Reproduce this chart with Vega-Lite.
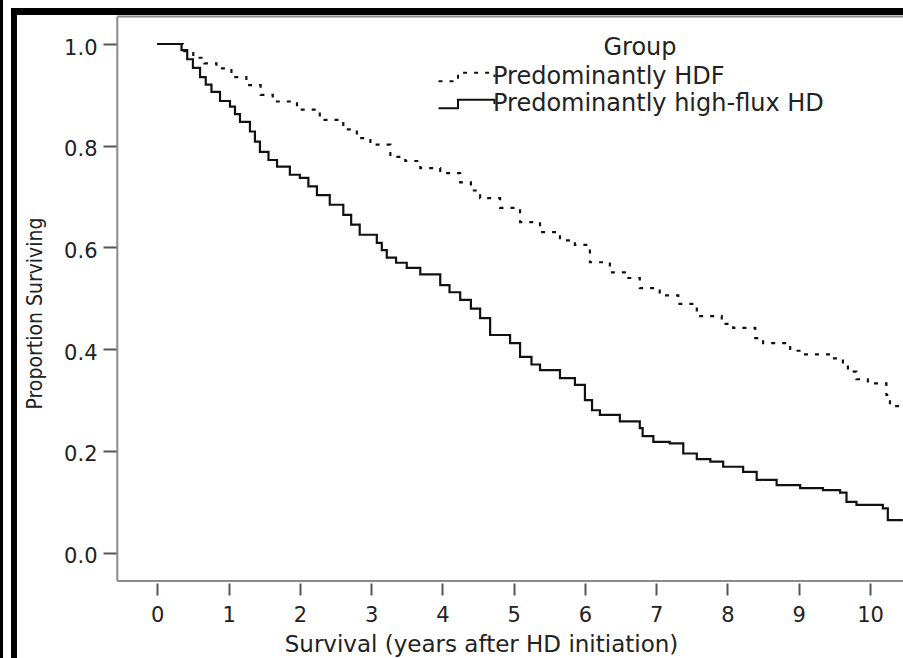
{
  "$schema": "https://vega.github.io/schema/vega-lite/v6.json",
  "width": 903,
  "height": 658,
  "padding": 0,
  "autosize": "none",
  "background": "white",
  "config": {"view": {"stroke": null}},
  "datasets": {
    "km": [
      {"group": "Predominantly high-flux HD", "t": 0, "s": 1.0},
      {"group": "Predominantly high-flux HD", "t": 0.27, "s": 1.0},
      {"group": "Predominantly high-flux HD", "t": 0.34, "s": 0.988},
      {"group": "Predominantly high-flux HD", "t": 0.42, "s": 0.97},
      {"group": "Predominantly high-flux HD", "t": 0.5, "s": 0.953},
      {"group": "Predominantly high-flux HD", "t": 0.6, "s": 0.935},
      {"group": "Predominantly high-flux HD", "t": 0.68, "s": 0.92},
      {"group": "Predominantly high-flux HD", "t": 0.76, "s": 0.906},
      {"group": "Predominantly high-flux HD", "t": 0.88, "s": 0.888},
      {"group": "Predominantly high-flux HD", "t": 1.02, "s": 0.877},
      {"group": "Predominantly high-flux HD", "t": 1.09, "s": 0.862},
      {"group": "Predominantly high-flux HD", "t": 1.16, "s": 0.847},
      {"group": "Predominantly high-flux HD", "t": 1.3, "s": 0.828},
      {"group": "Predominantly high-flux HD", "t": 1.37, "s": 0.808},
      {"group": "Predominantly high-flux HD", "t": 1.44, "s": 0.788},
      {"group": "Predominantly high-flux HD", "t": 1.56, "s": 0.772},
      {"group": "Predominantly high-flux HD", "t": 1.68, "s": 0.759},
      {"group": "Predominantly high-flux HD", "t": 1.86, "s": 0.743},
      {"group": "Predominantly high-flux HD", "t": 2.0, "s": 0.737},
      {"group": "Predominantly high-flux HD", "t": 2.12, "s": 0.72},
      {"group": "Predominantly high-flux HD", "t": 2.24, "s": 0.703},
      {"group": "Predominantly high-flux HD", "t": 2.42, "s": 0.684},
      {"group": "Predominantly high-flux HD", "t": 2.61, "s": 0.664},
      {"group": "Predominantly high-flux HD", "t": 2.72, "s": 0.645},
      {"group": "Predominantly high-flux HD", "t": 2.84, "s": 0.625},
      {"group": "Predominantly high-flux HD", "t": 3.08, "s": 0.609},
      {"group": "Predominantly high-flux HD", "t": 3.15, "s": 0.595},
      {"group": "Predominantly high-flux HD", "t": 3.22, "s": 0.58},
      {"group": "Predominantly high-flux HD", "t": 3.35, "s": 0.57},
      {"group": "Predominantly high-flux HD", "t": 3.5, "s": 0.56},
      {"group": "Predominantly high-flux HD", "t": 3.69, "s": 0.547},
      {"group": "Predominantly high-flux HD", "t": 3.97, "s": 0.526},
      {"group": "Predominantly high-flux HD", "t": 4.1, "s": 0.512},
      {"group": "Predominantly high-flux HD", "t": 4.25, "s": 0.497},
      {"group": "Predominantly high-flux HD", "t": 4.4, "s": 0.48},
      {"group": "Predominantly high-flux HD", "t": 4.53, "s": 0.461},
      {"group": "Predominantly high-flux HD", "t": 4.67, "s": 0.428},
      {"group": "Predominantly high-flux HD", "t": 4.95, "s": 0.412},
      {"group": "Predominantly high-flux HD", "t": 5.09, "s": 0.385},
      {"group": "Predominantly high-flux HD", "t": 5.25, "s": 0.37},
      {"group": "Predominantly high-flux HD", "t": 5.37, "s": 0.359},
      {"group": "Predominantly high-flux HD", "t": 5.65, "s": 0.343},
      {"group": "Predominantly high-flux HD", "t": 5.86, "s": 0.33},
      {"group": "Predominantly high-flux HD", "t": 6.0, "s": 0.3},
      {"group": "Predominantly high-flux HD", "t": 6.1, "s": 0.28},
      {"group": "Predominantly high-flux HD", "t": 6.21, "s": 0.271},
      {"group": "Predominantly high-flux HD", "t": 6.49, "s": 0.258},
      {"group": "Predominantly high-flux HD", "t": 6.77, "s": 0.245},
      {"group": "Predominantly high-flux HD", "t": 6.81, "s": 0.229},
      {"group": "Predominantly high-flux HD", "t": 6.96, "s": 0.218},
      {"group": "Predominantly high-flux HD", "t": 7.19, "s": 0.215},
      {"group": "Predominantly high-flux HD", "t": 7.38, "s": 0.195},
      {"group": "Predominantly high-flux HD", "t": 7.57, "s": 0.184},
      {"group": "Predominantly high-flux HD", "t": 7.76, "s": 0.179},
      {"group": "Predominantly high-flux HD", "t": 7.94, "s": 0.169},
      {"group": "Predominantly high-flux HD", "t": 8.22, "s": 0.159},
      {"group": "Predominantly high-flux HD", "t": 8.41, "s": 0.143},
      {"group": "Predominantly high-flux HD", "t": 8.69, "s": 0.133},
      {"group": "Predominantly high-flux HD", "t": 9.02, "s": 0.127},
      {"group": "Predominantly high-flux HD", "t": 9.34, "s": 0.123},
      {"group": "Predominantly high-flux HD", "t": 9.58, "s": 0.118},
      {"group": "Predominantly high-flux HD", "t": 9.67, "s": 0.1},
      {"group": "Predominantly high-flux HD", "t": 9.81, "s": 0.094},
      {"group": "Predominantly high-flux HD", "t": 10.18, "s": 0.087},
      {"group": "Predominantly high-flux HD", "t": 10.25, "s": 0.064},
      {"group": "Predominantly high-flux HD", "t": 10.46, "s": 0.064},
      {"group": "Predominantly HDF", "t": 0, "s": 1.0},
      {"group": "Predominantly HDF", "t": 0.3, "s": 1.0},
      {"group": "Predominantly HDF", "t": 0.36, "s": 0.986},
      {"group": "Predominantly HDF", "t": 0.505, "s": 0.973},
      {"group": "Predominantly HDF", "t": 0.66, "s": 0.962},
      {"group": "Predominantly HDF", "t": 0.83, "s": 0.952},
      {"group": "Predominantly HDF", "t": 1.04, "s": 0.935},
      {"group": "Predominantly HDF", "t": 1.25, "s": 0.919},
      {"group": "Predominantly HDF", "t": 1.45, "s": 0.9},
      {"group": "Predominantly HDF", "t": 1.62, "s": 0.887},
      {"group": "Predominantly HDF", "t": 1.96, "s": 0.871},
      {"group": "Predominantly HDF", "t": 2.28, "s": 0.851},
      {"group": "Predominantly HDF", "t": 2.61, "s": 0.832},
      {"group": "Predominantly HDF", "t": 2.8, "s": 0.815},
      {"group": "Predominantly HDF", "t": 2.99, "s": 0.802},
      {"group": "Predominantly HDF", "t": 3.27, "s": 0.778},
      {"group": "Predominantly HDF", "t": 3.48, "s": 0.77},
      {"group": "Predominantly HDF", "t": 3.69, "s": 0.756},
      {"group": "Predominantly HDF", "t": 3.97, "s": 0.746},
      {"group": "Predominantly HDF", "t": 4.25, "s": 0.728},
      {"group": "Predominantly HDF", "t": 4.4, "s": 0.712},
      {"group": "Predominantly HDF", "t": 4.53, "s": 0.697},
      {"group": "Predominantly HDF", "t": 4.81, "s": 0.678},
      {"group": "Predominantly HDF", "t": 5.09, "s": 0.65},
      {"group": "Predominantly HDF", "t": 5.37, "s": 0.63},
      {"group": "Predominantly HDF", "t": 5.65, "s": 0.614},
      {"group": "Predominantly HDF", "t": 5.86, "s": 0.605},
      {"group": "Predominantly HDF", "t": 6.07, "s": 0.571},
      {"group": "Predominantly HDF", "t": 6.35, "s": 0.551},
      {"group": "Predominantly HDF", "t": 6.56, "s": 0.54},
      {"group": "Predominantly HDF", "t": 6.77, "s": 0.52},
      {"group": "Predominantly HDF", "t": 7.05, "s": 0.506},
      {"group": "Predominantly HDF", "t": 7.31, "s": 0.489},
      {"group": "Predominantly HDF", "t": 7.57, "s": 0.465},
      {"group": "Predominantly HDF", "t": 7.92, "s": 0.45},
      {"group": "Predominantly HDF", "t": 8.08, "s": 0.442},
      {"group": "Predominantly HDF", "t": 8.39, "s": 0.422},
      {"group": "Predominantly HDF", "t": 8.5, "s": 0.412},
      {"group": "Predominantly HDF", "t": 8.88, "s": 0.397},
      {"group": "Predominantly HDF", "t": 9.04, "s": 0.39},
      {"group": "Predominantly HDF", "t": 9.46, "s": 0.382},
      {"group": "Predominantly HDF", "t": 9.62, "s": 0.372},
      {"group": "Predominantly HDF", "t": 9.69, "s": 0.356},
      {"group": "Predominantly HDF", "t": 9.81, "s": 0.341},
      {"group": "Predominantly HDF", "t": 9.97, "s": 0.333},
      {"group": "Predominantly HDF", "t": 10.23, "s": 0.31},
      {"group": "Predominantly HDF", "t": 10.28, "s": 0.288},
      {"group": "Predominantly HDF", "t": 10.46, "s": 0.286}
    ]
  },
  "layer": [
    {
      "data": {"values": [{}]},
      "mark": {"type": "rule", "color": "black", "strokeWidth": 3},
      "encoding": {"x": {"datum": -2.186}, "y": {"datum": 1.0865}, "y2": {"datum": -0.207}}
    },
    {
      "data": {"values": [{}]},
      "mark": {"type": "rule", "color": "black", "strokeWidth": 6},
      "encoding": {"x": {"datum": -2.0107}, "y": {"datum": 1.0708}, "y2": {"datum": -0.207}}
    },
    {
      "data": {"values": [{}]},
      "mark": {"type": "rule", "color": "black", "strokeWidth": 7},
      "encoding": {"y": {"datum": 1.0639}, "x": {"datum": -2.053}, "x2": {"datum": 10.463}}
    },
    {
      "data": {"values": [{}]},
      "mark": {"type": "rule", "color": "#8a8a8a", "strokeWidth": 2},
      "encoding": {"x": {"datum": -0.561}, "y": {"datum": -0.0556}, "y2": {"datum": 1.054}}
    },
    {
      "data": {"values": [{}]},
      "mark": {"type": "rule", "color": "#8a8a8a", "strokeWidth": 2},
      "encoding": {"y": {"datum": -0.0556}, "x": {"datum": -0.561}, "x2": {"datum": 10.463}}
    },
    {
      "data": {"values": [{}]},
      "mark": {"type": "rule", "color": "#8a8a8a", "strokeWidth": 2},
      "encoding": {"y": {"datum": 1.054}, "x": {"datum": -0.561}, "x2": {"datum": 10.463}}
    },
    {
      "data": {"name": "km"},
      "mark": {"type": "line", "interpolate": "step-after", "color": "#111", "strokeWidth": 2.2},
      "encoding": {
        "x": {
          "field": "t", "type": "quantitative",
          "scale": {"domain": [-2.207, 10.463], "nice": false, "zero": false},
          "axis": {
            "values": [0, 1, 2, 3, 4, 5, 6, 7, 8, 9, 10], "format": "d",
            "offset": -75, "domain": false, "grid": false,
            "tickSize": 12, "tickWidth": 2, "tickColor": "#555",
            "labelFont": "DejaVu Sans", "labelFontSize": 21, "labelColor": "#222", "labelPadding": 9, "labelFlush": false,
            "title": "Survival (years after HD initiation)",
            "titleFont": "DejaVu Sans", "titleFontSize": 23, "titleFontWeight": "normal", "titleColor": "#222",
            "titleX": 481, "titleY": 68, "titleBaseline": "alphabetic", "titleAlign": "center"
          }
        },
        "y": {
          "field": "s", "type": "quantitative",
          "scale": {"domain": [-0.207, 1.0865], "nice": false, "zero": false},
          "axis": {
            "values": [0, 0.2, 0.4, 0.6, 0.8, 1.0], "format": ".1f",
            "offset": -117, "domain": false, "grid": false,
            "tickSize": 14, "tickWidth": 2, "tickColor": "#555",
            "labelFont": "DejaVu Sans", "labelFontSize": 21, "labelColor": "#222", "labelPadding": 6, "labelOffset": 4,
            "title": "Proportion Surviving",
            "titleFont": "DejaVu Sans Condensed", "titleFontSize": 21, "titleFontWeight": "normal", "titleColor": "#222",
            "titleX": -76, "titleY": 313, "titleAngle": 270, "titleBaseline": "alphabetic", "titleAlign": "center"
          }
        },
        "strokeDash": {
          "field": "group", "type": "nominal",
          "scale": {"domain": ["Predominantly HDF", "Predominantly high-flux HD"], "range": [[4, 7], [1, 0]]},
          "legend": {
            "orient": "none", "legendX": 456, "legendY": 36, "padding": 0, "offset": 0,
            "title": "Group", "titleFont": "DejaVu Sans", "titleFontSize": 24, "titleFontWeight": "normal", "titleColor": "#222",
            "titleAnchor": "middle", "titleAlign": "center", "titlePadding": 5, "titleLimit": 0,
            "labelFont": "DejaVu Sans", "labelFontSize": 24, "labelColor": "#222", "labelOffset": 13, "labelLimit": 0,
            "symbolType": "M-2.95,0.42H-1V-0.42H2.65V0", "symbolSize": 400, "symbolStrokeWidth": 2,
            "symbolStrokeColor": "#111", "symbolFillColor": "transparent", "rowPadding": 3
          }
        }
      }
    }
  ]
}
